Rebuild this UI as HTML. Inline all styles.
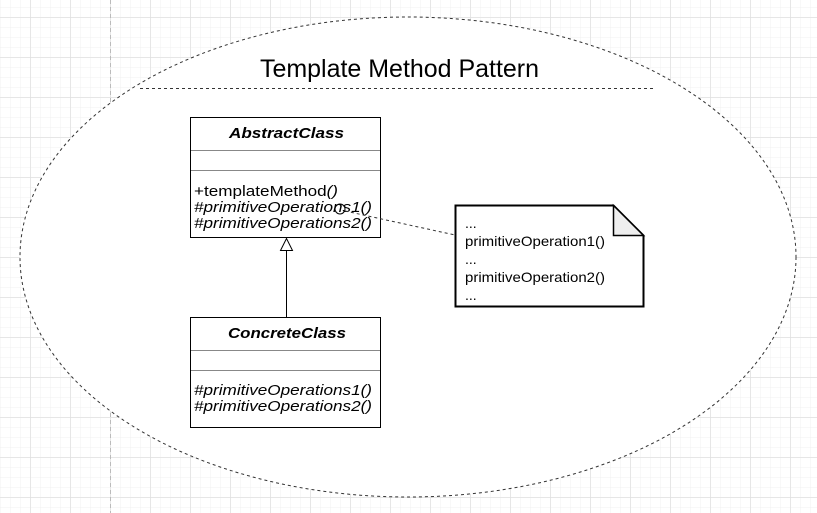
<!DOCTYPE html>
<html><head><style>
body{margin:0;width:817px;height:513px;overflow:hidden;background:#fff;}
svg{display:block;font-family:"Liberation Sans",sans-serif;}
</style></head><body>
<svg width="817" height="513" xmlns="http://www.w3.org/2000/svg">
<defs>
<pattern id="minor" width="10" height="10" patternUnits="userSpaceOnUse" x="0" y="7">
<path d="M0 0H10M0 0V10" stroke="#f0f0f0" stroke-width="1" fill="none"/>
</pattern>
<pattern id="major" width="40" height="40" patternUnits="userSpaceOnUse" x="30.5" y="17.5">
<path d="M0 0H40M0 0V40" stroke="#dcdcdc" stroke-width="1" fill="none"/>
</pattern>
</defs>
<rect width="817" height="513" fill="url(#minor)"/>
<rect width="817" height="513" fill="url(#major)"/>
<line x1="110.5" y1="0" x2="110.5" y2="513" stroke="#bbb" stroke-dasharray="4 3"/>
<ellipse cx="408" cy="257" rx="388" ry="240" fill="#fff" stroke="#333" stroke-dasharray="3 3"/>
<line x1="140" y1="88.5" x2="655" y2="88.5" stroke="#333" stroke-dasharray="3 3"/>
<text x="260" y="77" font-size="25" textLength="279" lengthAdjust="spacingAndGlyphs">Template Method Pattern</text>

<g stroke="#000" fill="#fff">
<rect x="190.5" y="117.5" width="190" height="120"/>
<rect x="190.5" y="317.5" width="190" height="110"/>
</g>
<g stroke="#888">
<line x1="191" y1="150.5" x2="380" y2="150.5"/>
<line x1="191" y1="170.5" x2="380" y2="170.5"/>
<line x1="191" y1="350.5" x2="380" y2="350.5"/>
<line x1="191" y1="370.5" x2="380" y2="370.5"/>
</g>
<g font-size="15">
<text x="229" y="138" font-weight="bold" font-style="italic" textLength="115" lengthAdjust="spacingAndGlyphs">AbstractClass</text>
<text x="194" y="196" textLength="144" lengthAdjust="spacingAndGlyphs">+templateMethod<tspan font-style="italic">()</tspan></text>
<text x="194" y="212" font-style="italic" textLength="178" lengthAdjust="spacingAndGlyphs">#primitiveOperations1()</text>
<text x="194" y="228" font-style="italic" textLength="178" lengthAdjust="spacingAndGlyphs">#primitiveOperations2()</text>
<text x="228" y="338" font-weight="bold" font-style="italic" textLength="118" lengthAdjust="spacingAndGlyphs">ConcreteClass</text>
<text x="194" y="395" font-style="italic" textLength="178" lengthAdjust="spacingAndGlyphs">#primitiveOperations1()</text>
<text x="194" y="411" font-style="italic" textLength="178" lengthAdjust="spacingAndGlyphs">#primitiveOperations2()</text>
</g>

<line x1="286.5" y1="250" x2="286.5" y2="317" stroke="#000"/>
<path d="M286.5 238.5 L280.5 250.5 L292.5 250.5 Z" fill="#fff" stroke="#000"/>

<line x1="345" y1="211" x2="455" y2="235" stroke="#333" stroke-dasharray="3 3"/>
<circle cx="340" cy="209" r="5" fill="none" stroke="#000"/>

<path d="M455.5 205.5 H613.5 L643.5 235.5 V306.5 H455.5 Z" fill="#fff" stroke="#000" stroke-width="2"/>
<path d="M613.5 205.5 V235.5 H643.5 Z" fill="#eee" stroke="#000" stroke-width="1.5"/>
<g font-size="14">
<text x="465" y="228">...</text>
<text x="465" y="246" textLength="140" lengthAdjust="spacingAndGlyphs">primitiveOperation1()</text>
<text x="465" y="264">...</text>
<text x="465" y="282" textLength="140" lengthAdjust="spacingAndGlyphs">primitiveOperation2()</text>
<text x="465" y="300">...</text>
</g>
</svg>
</body></html>
